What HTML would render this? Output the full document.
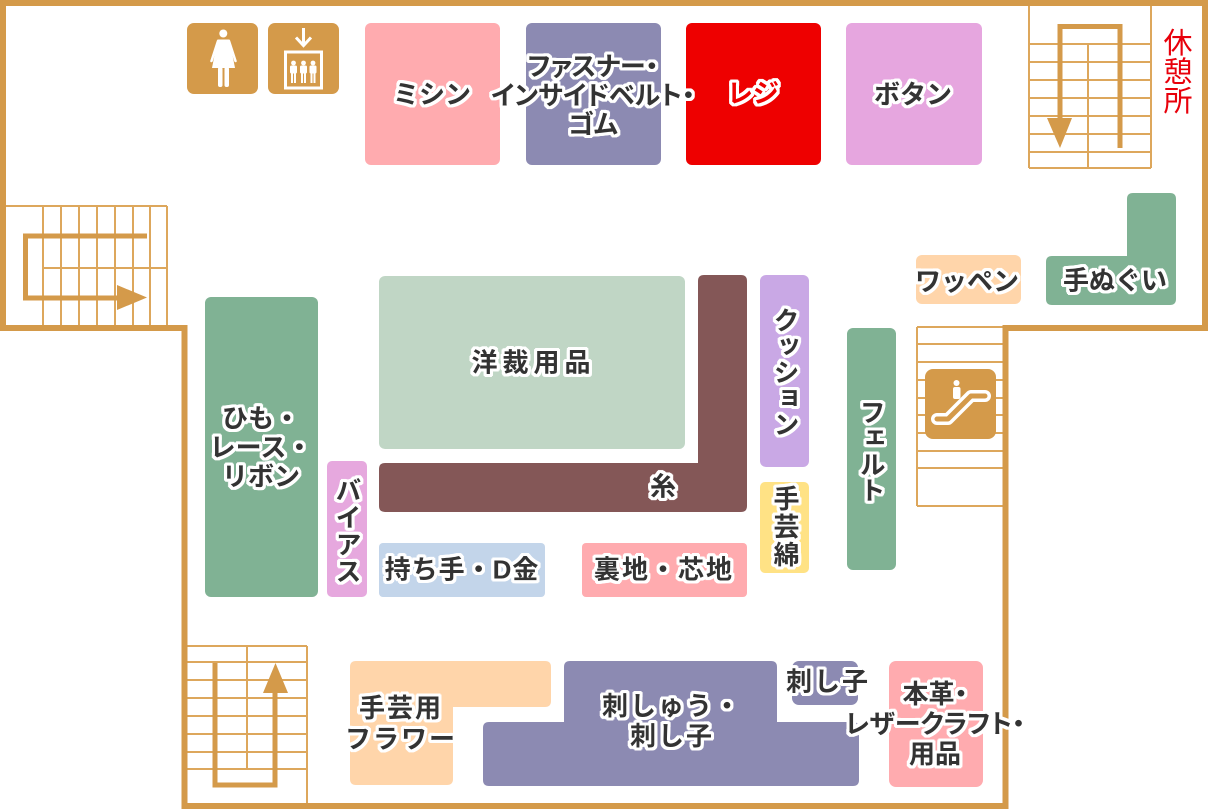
<!DOCTYPE html>
<html><head><meta charset="utf-8">
<style>
html,body{margin:0;padding:0;background:#fff;}
#wrap{position:relative;width:1208px;height:810px;overflow:hidden;background:#fff;}
svg{position:absolute;left:0;top:0;}
.t{position:absolute;transform:translate(-50%,-50%);font-family:"Liberation Sans","Noto Sans CJK JP",sans-serif;font-weight:700;font-size:26px;line-height:29px;color:#333;white-space:nowrap;text-align:center;
text-shadow:0 0 1px #fff,3px 0 #fff,-3px 0 #fff,0 3px #fff,0 -3px #fff,2px 2px #fff,-2px 2px #fff,2px -2px #fff,-2px -2px #fff,3px 1px #fff,3px -1px #fff,-3px 1px #fff,-3px -1px #fff,1px 3px #fff,-1px 3px #fff,1px -3px #fff,-1px -3px #fff,3px 2px #fff,-3px 2px #fff,3px -2px #fff,-3px -2px #fff,2px 3px #fff,-2px 3px #fff,2px -3px #fff,-2px -3px #fff;}
.p{font-feature-settings:"palt";}
.v{writing-mode:vertical-rl;line-height:26px;}
</style></head><body>
<div id="wrap">
<svg width="1208" height="810" viewBox="0 0 1208 810" xmlns="http://www.w3.org/2000/svg">
<g stroke="#DDA75C" stroke-width="2" fill="none">
<path d="M1029,6V168M1151,6V168M1029,168H1151M1029,44H1151M1029,62H1151M1029,80H1151M1029,98H1151M1029,116H1151M1029,134H1151M1029,152H1151M1088,44V168"/>
<path d="M6,206H167M167,206V325M43,206V325M61,206V325M79,206V325M97,206V325M115,206V325M133,206V325M150,206V325M43,268H167"/>
<path d="M187,646H307M187,662H307M187,680H307M187,698H307M187,716H307M187,734H307M187,752H307M187,769H307M307,646V803M247,646V769"/>
<path d="M917,327H1003M917,344H1003M917,362H1003M917,380H1003M917,398H1003M917,415H1003M917,433H1003M917,451H1003M917,468H1003M917,506H1003M917,327V506"/>
</g>
<g stroke="#D49A4A" stroke-width="5" fill="none">
<polyline points="1120,148 1120,26.5 1060,26.5 1060,125"/>
<polyline points="147,236 25.5,236 25.5,298 120,298"/>
<polyline points="215,663 215,785 275,785 275,690"/>
</g>
<g fill="#D49A4A">
<polygon points="1047,118 1072,118 1060,148"/>
<polygon points="117,285 117,310 147,297.5"/>
<polygon points="263,693 288,693 275.5,663"/>
</g>
<path d="M3,3 H1205 V328 H1005.5 V806 H184.5 V328 H3 Z" fill="none" stroke="#D49A4A" stroke-width="6"/>
<rect x="365" y="23" width="135" height="142" rx="6" fill="#FFABAF"/>
<rect x="526" y="23" width="135" height="142" rx="6" fill="#8C8AB2"/>
<rect x="686" y="23" width="135" height="142" rx="6" fill="#EE0000"/>
<rect x="846" y="23" width="136" height="142" rx="6" fill="#E6A6DF"/>
<rect x="187" y="23" width="71" height="71" rx="7" fill="#D49A4A"/>
<g fill="#fff">
<circle cx="223.3" cy="33.5" r="4"/>
<polygon points="217.5,39.5 229.5,39.5 235,68 212,68"/>
<rect x="218" y="67" width="4.5" height="20" rx="2"/>
<rect x="224.5" y="67" width="4.5" height="20" rx="2"/>
</g>
<path d="M218,41L211.5,61M229,41L235.5,61" stroke="#fff" stroke-width="2.5" stroke-linecap="round"/>
<rect x="268" y="23" width="71" height="71" rx="7" fill="#D49A4A"/>
<g stroke="#fff" fill="none" stroke-width="3">
<path d="M303.5,28V44"/>
<polyline points="296,37.5 303.5,45.5 311,37.5"/>
<rect x="285.5" y="52" width="36" height="36"/>
</g>
<g fill="#fff">
<circle cx="293.5" cy="63" r="2.4"/><rect x="290" y="65.5" width="7" height="8" rx="1.5"/><rect x="291" y="72" width="2" height="11"/><rect x="294" y="72" width="2" height="11"/>
<circle cx="303.5" cy="63" r="2.4"/><rect x="300" y="65.5" width="7" height="8" rx="1.5"/><rect x="301" y="72" width="2" height="11"/><rect x="304" y="72" width="2" height="11"/>
<circle cx="313" cy="63" r="2.4"/><rect x="309.5" y="65.5" width="7" height="8" rx="1.5"/><rect x="310.5" y="72" width="2" height="11"/><rect x="313.5" y="72" width="2" height="11"/>
</g>
<rect x="925" y="369" width="71" height="70" rx="8" fill="#D49A4A"/>
<circle cx="956.5" cy="383" r="3" fill="#fff"/>
<rect x="953" y="387" width="7.5" height="12" rx="2" fill="#fff"/>
<path d="M937,419 L948,419 L971,396 L985,396" fill="none" stroke="#fff" stroke-width="12" stroke-linecap="round" stroke-linejoin="round"/>
<path d="M937,419 L948,419 L971,396 L985,396" fill="none" stroke="#D49A4A" stroke-width="5" stroke-linecap="round" stroke-linejoin="round"/>
<path d="M1052,256 L1127,256 L1127,199 Q1127,193 1133,193 L1170,193 Q1176,193 1176,199 L1176,299 Q1176,305 1170,305 L1052,305 Q1046,305 1046,299 L1046,262 Q1046,256 1052,256 Z" fill="#80B294"/>
<rect x="916" y="255" width="105" height="49" rx="6" fill="#FFD5AA"/>
<rect x="847" y="328" width="49" height="242" rx="6" fill="#80B294"/>
<rect x="379" y="276" width="306" height="173" rx="6" fill="#C0D6C5"/>
<path d="M385,463 L698,463 L698,281 Q698,275 704,275 L741,275 Q747,275 747,281 L747,506 Q747,512 741,512 L385,512 Q379,512 379,506 L379,469 Q379,463 385,463 Z" fill="#845757"/>
<rect x="760" y="275" width="49" height="192" rx="6" fill="#C9A8E5"/>
<rect x="760" y="482" width="49" height="91" rx="5" fill="#FFE285"/>
<rect x="205" y="297" width="113" height="300" rx="6" fill="#80B294"/>
<rect x="327" y="461" width="40" height="136" rx="5" fill="#E6A8DE"/>
<rect x="379" y="543" width="166" height="54" rx="4" fill="#C3D5EA"/>
<rect x="582" y="543" width="165" height="54" rx="4" fill="#FFABAF"/>
<path d="M356,661 L545,661 Q551,661 551,667 L551,701 Q551,707 545,707 L453,707 L453,779 Q453,785 447,785 L356,785 Q350,785 350,779 L350,667 Q350,661 356,661 Z" fill="#FFD5AA"/>
<path d="M570,661 L771,661 Q777,661 777,667 L777,722 L853,722 Q859,722 859,728 L859,780 Q859,786 853,786 L489,786 Q483,786 483,780 L483,728 Q483,722 489,722 L564,722 L564,667 Q564,661 570,661 Z" fill="#8C8AB2"/>
<rect x="792" y="661" width="66" height="44" rx="7" fill="#8C8AB2"/>
<rect x="889" y="661" width="94" height="126" rx="7" fill="#FFABAF"/>
</svg>
<div class="t" style="left:432px;top:95px;">ミシン</div>
<div class="t p" style="left:593px;top:96px;">ファスナー・<br>インサイドベルト・<br>ゴム</div>
<div class="t" style="left:753px;top:94px;color:#EE0000;">レジ</div>
<div class="t" style="left:913px;top:95px;">ボタン</div>
<div class="t" style="left:531px;top:363px;letter-spacing:5px;text-indent:5px;">洋裁用品</div>
<div class="t" style="left:663px;top:487px;">糸</div>
<div class="t v" style="left:785px;top:372px;">クッション</div>
<div class="t v" style="left:785px;top:527px;letter-spacing:2px;">手芸綿</div>
<div class="t v" style="left:871px;top:451px;">フェルト</div>
<div class="t" style="left:261px;top:448px;">ひも・<br>レース・<br>リボン</div>
<div class="t v" style="left:347px;top:531px;letter-spacing:1px;">バイアス</div>
<div class="t" style="left:462px;top:570px;letter-spacing:1px;">持ち手・D金</div>
<div class="t" style="left:664px;top:570px;letter-spacing:2px;">裏地・芯地</div>
<div class="t" style="left:401px;top:724px;line-height:31px;letter-spacing:2px;">手芸用<br>フラワー</div>
<div class="t" style="left:672px;top:721px;line-height:30px;letter-spacing:2px;">刺しゅう・<br>刺し子</div>
<div class="t" style="left:828px;top:682px;letter-spacing:2px;">刺し子</div>
<div class="t p" style="left:935px;top:724px;line-height:30px;">本革・<br>レザークラフト・<br>用品</div>
<div class="t" style="left:967px;top:282px;">ワッペン</div>
<div class="t" style="left:1115px;top:281px;">手ぬぐい</div>
<div class="t v" style="left:1175px;top:71px;color:#E8000B;font-weight:400;font-size:29px;line-height:30px;text-shadow:none;">休憩所</div>
</div>
</body></html>
